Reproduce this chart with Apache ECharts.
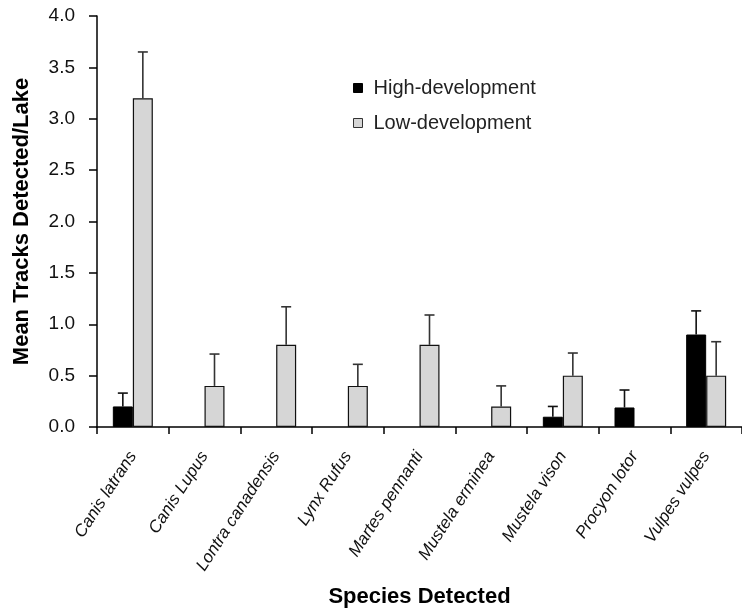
<!DOCTYPE html>
<html>
<head>
<meta charset="utf-8">
<script src="https://cdn.jsdelivr.net/npm/echarts@6/dist/echarts.min.js"></script>
<style>
html,body{margin:0;padding:0;background:#fff;}
#chart{width:742px;height:614px;}
</style>
</head>
<body>
<div id="chart"></div>
<script>
const categories = ['Canis latrans','Canis Lupus','Lontra canadensis','Lynx Rufus','Martes pennanti','Mustela erminea','Mustela vison','Procyon lotor','Vulpes vulpes'];
const highValues = [0.2, null, null, null, null, null, 0.1, 0.19, 0.9];
const highErrTop = [0.33, null, null, null, null, null, 0.2, 0.36, 1.13];
const lowValues = [3.2, 0.4, 0.8, 0.4, 0.8, 0.2, 0.5, null, 0.5];
const lowErrTop = [3.65, 0.71, 1.17, 0.61, 1.09, 0.40, 0.72, null, 0.83];
const yTicks = [0, 0.5, 1, 1.5, 2, 2.5, 3, 3.5, 4];

const BAR_W = 20;
const FONT = 'Liberation Sans, Arial, sans-serif';
const chart = echarts.init(document.getElementById('chart'));

function errSeries(name, tops, vals, side, color) {
  return {
    type: 'custom',
    name: name + ' err',
    z: 1,
    data: tops.map((t, i) => [i, vals[i], t]),
    renderItem: function (params, api) {
      const v = api.value(1), t = api.value(2);
      if (t == null || isNaN(t) || v == null || isNaN(v)) return;
      const base = api.coord([api.value(0), v]);
      const top = api.coord([api.value(0), t]);
      const x = base[0] + side * BAR_W / 2;
      const cap = 5;
      return {
        type: 'group',
        children: [
          {type: 'line', shape: {x1: x, y1: base[1], x2: x, y2: top[1]}, style: {stroke: color, lineWidth: 1.6}},
          {type: 'line', shape: {x1: x - cap, y1: top[1], x2: x + cap, y2: top[1]}, style: {stroke: color, lineWidth: 1.6}}
        ]
      };
    },
    tooltip: {show: false},
    silent: true
  };
}

chart.setOption({
  animation: false,
  textStyle: {fontFamily: FONT},
  grid: {left: 97, right: 0, top: 16, bottom: 187, containLabel: false, outerBoundsMode: 'none'},
  legend: {
    orient: 'vertical',
    left: 348,
    top: 73,
    itemWidth: 9,
    itemHeight: 9,
    itemGap: 15,
    icon: 'rect',
    textStyle: {fontSize: 20, color: '#222', fontFamily: FONT, padding: [0, 0, 0, 6]},
    data: [
      {name: 'High-development', itemStyle: {color: '#000', borderColor: '#000', borderWidth: 1}},
      {name: 'Low-development', itemStyle: {color: '#d6d6d6', borderColor: '#333', borderWidth: 1}}
    ]
  },
  xAxis: {
    type: 'category',
    data: categories,
    name: 'Species Detected',
    nameLocation: 'middle',
    nameGap: 159,
    nameTextStyle: {fontSize: 22, fontWeight: 'bold', color: '#000'},
    axisLine: {lineStyle: {color: '#000', width: 1.5}},
    axisTick: {show: true, alignWithLabel: false, length: 7, inside: false, lineStyle: {color: '#000', width: 1.5}},
    axisLabel: {rotate: 57, fontSize: 17, fontStyle: 'italic', color: '#111', margin: 26, interval: 0}
  },
  yAxis: {
    type: 'value',
    min: 0,
    max: 4,
    interval: 0.5,
    name: 'Mean Tracks Detected/Lake',
    nameLocation: 'middle',
    nameGap: 64,
    nameMoveOverlap: false,
    nameTextStyle: {fontSize: 22, fontWeight: 'bold', color: '#000'},
    splitLine: {show: false},
    axisLine: {show: true, lineStyle: {color: '#000', width: 1.5}},
    axisTick: {show: true, length: 8, lineStyle: {color: '#000', width: 1.5}},
    axisLabel: {fontSize: 19, color: '#111', margin: 22, formatter: v => yTicks.includes(v) ? v.toFixed(1) : ''}
  },
  series: [
    {
      name: 'High-development', type: 'bar', data: highValues, barWidth: BAR_W, barGap: '0%', z: 2,
      itemStyle: {color: '#000', borderColor: '#000', borderWidth: 1}
    },
    {
      name: 'Low-development', type: 'bar', data: lowValues, barWidth: BAR_W, barGap: '0%', z: 2,
      itemStyle: {color: '#d6d6d6', borderColor: '#111', borderWidth: 1.2}
    },
    errSeries('High-development', highErrTop, highValues, -1, '#111'),
    errSeries('Low-development', lowErrTop, lowValues, 1, '#333')
  ]
});
</script>
</body>
</html>
